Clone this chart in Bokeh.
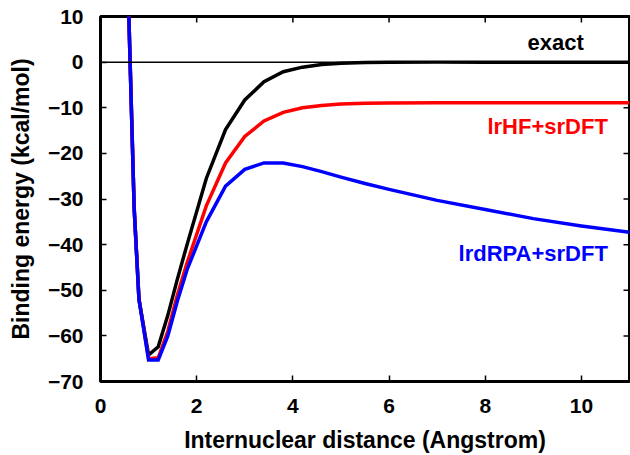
import math
from bokeh.plotting import figure
from bokeh.models import FixedTicker, Span, Range1d, ColumnDataSource
from bokeh.embed import file_html
from bokeh.resources import INLINE
from bokeh.core.properties import value

# Internuclear distance (Angstrom)
r = [0.5, 0.7, 0.8, 1.0, 1.2, 1.4, 1.6, 1.8, 2.2, 2.6, 3.0, 3.4, 3.8, 4.2,
     4.6, 5.0, 5.5, 6.0, 7.0, 8.0, 9.0, 10.0, 11.0]
# Binding energies (kcal/mol)
exact = [44, -32, -52, -64.2, -62.4, -55.5, -47.5, -40.0, -25.5, -14.8, -8.3,
         -4.3, -2.1, -1.1, -0.5, -0.25, -0.1, -0.05, 0.0, 0.0, 0.0, 0.0, 0.0]
lrhf = [44, -32, -52, -65.0, -64.8, -59.0, -51.0, -44.0, -31.5, -22.1, -16.3,
        -12.9, -11.0, -10.0, -9.5, -9.2, -9.0, -8.95, -8.9, -8.9, -8.9, -8.9, -8.9]
lrdrpa = [44, -32, -52, -65.3, -65.3, -60.0, -52.3, -45.5, -35.0, -27.2, -23.5,
          -22.1, -22.1, -22.9, -24.0, -25.2, -26.6, -27.9, -30.3, -32.3, -34.3,
          -35.9, -37.3]

series_names = ["exact", "lrHF+srDFT", "lrdRPA+srDFT"]
series_colors = ["black", "red", "blue"]
label_x = [10.05, 10.55, 10.55]
label_y = [4.3, -14.0, -41.9]

x_min, x_max = 0, 11
y_min, y_max = -70, 10
x_ticks = [0, 2, 4, 6, 8, 10]
y_ticks = [-70, -60, -50, -40, -30, -20, -10, 0, 10]

FONT = "Liberation Sans"

p = figure(width=630, height=455, output_backend="svg", toolbar_location=None,
           x_range=Range1d(x_min, x_max), y_range=Range1d(y_min, y_max),
           min_border_left=100, min_border_right=1, min_border_top=16,
           min_border_bottom=72)

p.grid.visible = False
p.outline_line_color = "black"
p.outline_line_width = 3
p.background_fill_color = "white"
p.border_fill_color = "white"

for ax in (p.xaxis[0], p.yaxis[0]):
    ax.axis_line_color = None
    ax.major_tick_in = 6
    ax.major_tick_out = 0
    ax.major_tick_line_width = 1.5
    ax.major_tick_line_color = "black"
    ax.minor_tick_line_color = None
    ax.major_label_text_font = FONT
    ax.major_label_text_font_style = "bold"
    ax.major_label_text_color = "black"
    ax.major_label_text_font_size = "21px"
    ax.axis_label_text_font = FONT
    ax.axis_label_text_font_style = "bold"
    ax.axis_label_text_color = "black"
    ax.axis_label_text_font_size = "23px"

xa = p.xaxis[0]
ya = p.yaxis[0]
xa.ticker = FixedTicker(ticks=x_ticks)
ya.ticker = FixedTicker(ticks=y_ticks)
xa.axis_label = "Internuclear distance (Angstrom)"
ya.axis_label = "Binding energy (kcal/mol)"
xa.major_label_standoff = 17
ya.major_label_standoff = 17
xa.axis_label_standoff = 11
ya.axis_label_standoff = 11

# mirrored inward ticks on the top and right edges
p.ray(x=x_ticks, y=[y_max] * len(x_ticks), length=6, length_units="screen",
      angle=-math.pi / 2, line_color="black", line_width=1.5)
p.ray(x=[x_max] * len(y_ticks), y=y_ticks, length=6, length_units="screen",
      angle=math.pi, line_color="black", line_width=1.5)

p.add_layout(Span(location=0, dimension="width", line_color="black", line_width=1.5))

for ys, c in zip([exact, lrhf, lrdrpa], series_colors):
    p.line(r, ys, line_color=c, line_width=3.5, line_join="miter")

src = ColumnDataSource(dict(x=label_x, y=label_y, t=series_names, c=series_colors))
p.text(x="x", y="y", text="t", text_color="c", source=src,
       text_font=value(FONT), text_font_style="bold", text_font_size="22px",
       text_align="right", text_baseline="middle")

open("out.html", "w").write(file_html(p, INLINE))
